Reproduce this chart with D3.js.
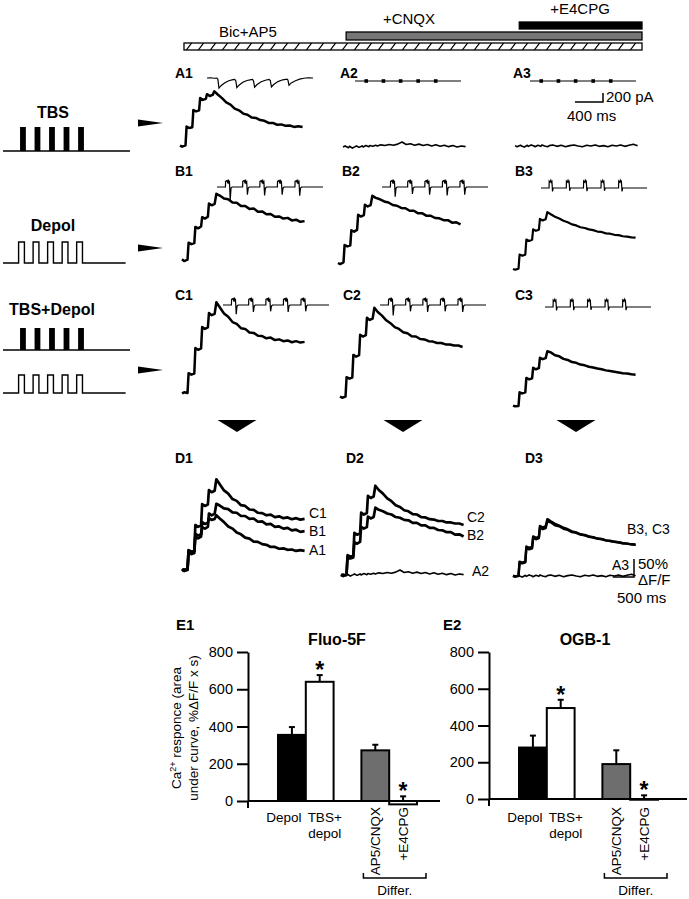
<!DOCTYPE html>
<html><head><meta charset="utf-8">
<script src="https://cdn.jsdelivr.net/npm/d3@7"></script>
<style>
body{margin:0;background:#fff;}
svg text{font-family:Arial,"Liberation Sans",Helvetica,sans-serif;fill:#000;}
</style></head><body>
<svg id="fig" width="689" height="899"></svg>
<script>
// ---------------- DATA ----------------
// drug application bars (minutes)
const drugNames = ["Bic+AP5", "+CNQX", "+E4CPG"];
const drugOnset = [0, 17.7, 36.6];
const drugEnd = 50;

// stimulus protocol (ms)
const stimTimes = [235, 435, 635, 835, 1035];
const stimWidth = 80;
const stimLabels = ["TBS", "Depol", "TBS+Depol"];

// Ca2+ traces: time (ms) and %ΔF/F
const caTime = [-140,-90,-10,15,80,150,175,240,310,335,400,470,495,560,630,670,
  750,850,950,1050,1150,1250,1350,1450,1550,1650,1750,1850,1950,2050,2150,2250,2350,2450,2550,2650,2750];
const caA1 = [1,-2,2, 54,50,52, 100,96,99, 133,128,131, 144,139,142, 152,
  143,133,121,115,104,99,90,87,79,78,72,70,64,64,59,60,56,57,53,55,53];
const caB1 = [2,-3,1, 48,44,47, 92,88,93, 119,115,120, 157,152,156, 184,
  179,171,169,160,159,150,150,142,143,134,135,127,128,120,121,115,117,110,112,106,108];
const caC1 = [-1,2,0, 55,51,54, 125,120,124, 183,178,182, 222,216,220, 252,
  238,221,212,197,192,180,178,168,167,159,158,152,154,147,149,144,146,141,144,140,142];
const caA2 = [0,3,-2,2,-3,1,3,-1,3,0,4,1,4,2,5,3,6,4,7,5,8,14,7,9,5,8,4,7,3,6,2,5,1,4,0,3,1];
const caB2 = [0,-3,2, 50,46,49, 91,87,92, 134,129,133, 162,157,161, 187,
  181,177,171,168,161,159,153,152,145,145,138,138,131,131,125,124,119,119,112,113,107];
const caC2 = [1,-2,1, 55,51,54, 117,112,116, 173,168,172, 220,214,218, 248,
  236,226,213,205,194,189,180,177,169,168,161,160,155,154,150,150,146,146,143,143,139];
const caA3 = [1,-2,2,0,-3,2,-1,3,0,-2,2,-1,3,0,-2,1,3,-1,2,-2,1,3,0,-2,2,0,3,-1,1,-2,2,0,3,-1,2,5,1];
const caB3 = [0,-2,1, 40,37,40, 82,78,81, 110,106,109, 139,135,138, 158,
  152,145,140,134,130,124,121,116,114,110,108,104,103,99,98,95,94,91,90,88,87];
const caC3 = [1,-1,0, 38,35,38, 78,74,77, 106,102,105, 134,130,133, 152,
  149,141,138,131,128,122,120,115,113,109,107,104,102,99,97,95,93,91,90,88,87];

// electrophysiology traces (ms)
const ephysPulses = [160, 405, 650, 900, 1150];
const ephysEnd = 1510;
// A1 synaptic current (pA)
const epscA1 = [[0,0],[50,5],[100,-5],[140,0],[155,-30],[170,-225],[200,-170],[250,-110],[310,-60],[370,-35],[395,-30],
  [410,-60],[425,-215],[455,-160],[510,-95],[570,-55],[630,-35],[648,-30],[662,-60],[678,-205],[710,-150],[765,-90],
  [830,-50],[885,-30],[902,-55],[918,-200],[950,-145],[1010,-80],[1080,-40],[1140,-25],[1153,-45],[1168,-160],
  [1200,-110],[1260,-60],[1320,-25],[1380,-5],[1440,5],[1510,0]];
// spike waveform templates (null = downward peak, from depth arrays)
const spikeShapeBC = [[-40,0],[-38,16],[-20,18],[-8,13],[0,21],[8,12],[18,15],[28,null],[40,-3],[55,0]];
const spikeShape3 = [[-45,0],[-43,20],[-30,17],[-20,22],[-10,16],[-4,18],[4,null],[14,0]];
const depthB1 = [-38,-22,-24,-22,-25];
const depthB2 = [-28,-20,-22,-24,-22];
const depthB3 = [-10,-8,-9,-8,-10];
const depthC1 = [-26,-20,-18,-20,-18];
const depthC2 = [-30,-18,-20,-18,-20];
const depthC3 = [-10,-9,-8,-10,-9];

// summary bar charts
const barCategories = ["Depol", "TBS+depol", "AP5/CNQX", "+E4CPG"];
const fluo5F = [355, 640, 272, -18];
const fluo5FErr = [42, 36, 30, 43];
const fluo5FStars = [false, true, false, true];
const ogb1 = [280, 495, 190, -4];
const ogb1Err = [65, 45, 75, 24];
const ogb1Stars = [false, true, false, true];
const yTicks = [0, 200, 400, 600, 800];

// ---------------- DRAW ----------------
const svg = d3.select("#fig");
svg.append("rect").attr("width", 689).attr("height", 899).attr("fill", "#fff");
const defs = svg.append("defs");
const pat = defs.append("pattern").attr("id", "hatch").attr("patternUnits", "userSpaceOnUse")
  .attr("x", 184).attr("y", 43).attr("width", 12).attr("height", 7);
pat.append("rect").attr("width", 12).attr("height", 7).attr("fill", "#fff");
pat.append("path").attr("d", "M2,7.5 L8,-0.5").attr("stroke", "#000").attr("stroke-width", 1.2);

// drug bars
const xDrug = d3.scaleLinear([0, drugEnd], [184, 642]);
const drugBarY = [43, 32, 22], drugBarH = [7, 8, 7];
const drugFill = ["url(#hatch)", "#777", "#000"];
const drugLabelPos = [[248, 37], [409, 24], [580, 14]];
drugNames.forEach((n, i) => {
  svg.append("rect").attr("x", xDrug(drugOnset[i])).attr("y", drugBarY[i])
    .attr("width", xDrug(drugEnd) - xDrug(drugOnset[i])).attr("height", drugBarH[i])
    .attr("fill", drugFill[i]).attr("stroke", "#000").attr("stroke-width", 1.3);
  svg.append("text").attr("x", drugLabelPos[i][0]).attr("y", drugLabelPos[i][1])
    .attr("text-anchor", "middle").attr("font-size", 15).text(n);
});

// panel labels
const panelLabels = [["A1",175,78],["A2",340,78],["A3",513,78],["B1",175,176],["B2",342,176],["B3",515,176],
  ["C1",175,300],["C2",343,300],["C3",515,300],["D1",175,463],["D2",346,463],["D3",525,463]];
panelLabels.forEach(([t, x, y]) => svg.append("text").attr("x", x).attr("y", y)
  .attr("font-size", 14).attr("font-weight", "bold").text(t));
svg.append("text").attr("x", 176).attr("y", 630).attr("font-size", 15).attr("font-weight", "bold").text("E1");
svg.append("text").attr("x", 443).attr("y", 630).attr("font-size", 15).attr("font-weight", "bold").text("E2");

// stimulus diagrams
const xStim = d3.scaleLinear([0, 1750], [3, 130]);
function stimTBS(baseY, h) {
  svg.append("line").attr("x1", xStim(0)).attr("x2", xStim(1750)).attr("y1", baseY).attr("y2", baseY)
    .attr("stroke", "#000").attr("stroke-width", 1.5);
  svg.selectAll(null).data(stimTimes).enter().append("rect")
    .attr("x", d => xStim(d)).attr("y", baseY - h).attr("width", xStim(d3.min(stimTimes) + stimWidth) - xStim(d3.min(stimTimes)))
    .attr("height", h).attr("fill", "#000");
}
function stimDepol(baseY, h) {
  let d = `M${xStim(0)},${baseY}`;
  stimTimes.forEach(t => {
    d += ` H${xStim(t - 20)} V${baseY - h} H${xStim(t + stimWidth - 20)} V${baseY}`;
  });
  d += ` H${xStim(1690)}`;
  svg.append("path").attr("d", d).attr("fill", "none").attr("stroke", "#000").attr("stroke-width", 1.4);
}
svg.append("text").attr("x", 53).attr("y", 118).attr("text-anchor", "middle").attr("font-size", 16).attr("font-weight", "bold").text(stimLabels[0]);
stimTBS(151, 24);
svg.append("text").attr("x", 53).attr("y", 231).attr("text-anchor", "middle").attr("font-size", 16).attr("font-weight", "bold").text(stimLabels[1]);
stimDepol(263, 21);
svg.append("text").attr("x", 52).attr("y", 315).attr("text-anchor", "middle").attr("font-size", 16).attr("font-weight", "bold").text(stimLabels[2]);
stimTBS(350, 22);
stimDepol(393, 18);

// right arrows
[123, 248, 370].forEach(y => svg.append("path")
  .attr("d", `M138,${y - 3.5} L163,${y} L138,${y + 3.5} Z`).attr("fill", "#000"));
// down arrows
[237, 403, 576].forEach(x => svg.append("path")
  .attr("d", `M${x - 19.5},420 L${x + 19.5},420 L${x},432 Z`).attr("fill", "#000"));

// Ca traces
const xCa = d3.scaleLinear([-140, 2760], [0, 123]);
const yCa = d3.scaleLinear([0, 50], [0, -18]);
const caLine = d3.line().x(d => xCa(d[0])).y(d => yCa(d[1]));
function drawCa(values, x, y, sw) {
  svg.append("path").datum(caTime.map((t, i) => [t, values[i]]))
    .attr("transform", `translate(${x},${y})`).attr("d", caLine)
    .attr("fill", "none").attr("stroke", "#000").attr("stroke-width", sw || 2.5)
    .attr("stroke-linejoin", "round");
}
drawCa(caA1, 180, 146); drawCa(caA2, 343, 147, 1.6); drawCa(caA3, 515, 146, 1.6);
drawCa(caB1, 182, 260); drawCa(caB2, 338, 263); drawCa(caB3, 513, 269, 2.2);
drawCa(caC1, 182, 393); drawCa(caC2, 340, 397); drawCa(caC3, 513, 406);
// D overlays
drawCa(caC1, 182, 570, 2.7); drawCa(caB1, 182, 570, 2.7); drawCa(caA1, 182, 570, 2.7);
drawCa(caC2, 341, 575, 2.7); drawCa(caB2, 341, 575, 2.7); drawCa(caA2, 341, 575, 1.6);
drawCa(caB3, 513, 576, 2.4); drawCa(caC3, 513, 576, 2.4); drawCa(caA3, 513, 576, 1.6);
const dLabels = [["C1",309,518],["B1",309,536],["A1",309,555],["C2",467,522],["B2",467,540],["A2",472,576],
  ["B3, C3",627,534],["A3",612,570]];
dLabels.forEach(([t, x, y]) => svg.append("text").attr("x", x).attr("y", y).attr("font-size", 14).text(t));

// ephys traces
const xE = d3.scaleLinear([0, ephysEnd], [0, 106]);
const yI = d3.scaleLinear([0, -200], [0, 9]);
const yV = d3.scaleLinear([0, 20], [0, -7]);
function spikes(shape, depths) {
  const pts = [[0, 0]];
  ephysPulses.forEach((p, i) => shape.forEach(([dt, v]) => pts.push([p + dt, v === null ? depths[i] : v])));
  pts.push([ephysEnd, 0]);
  return pts;
}
function drawEphys(pts, yScale, x, y) {
  svg.append("path").datum(pts).attr("transform", `translate(${x},${y})`)
    .attr("d", d3.line().x(d => xE(d[0])).y(d => yScale(d[1])))
    .attr("fill", "none").attr("stroke", "#000").attr("stroke-width", 1.2);
}
drawEphys(epscA1, yI, 207, 78);
[[355, 81], [530, 81]].forEach(([x, y]) => {
  drawEphys([[0, 0], [ephysEnd, 0]], yI, x, y);
  svg.selectAll(null).data(ephysPulses).enter().append("rect")
    .attr("x", d => x + xE(d) - 1.8).attr("y", y - 1.8).attr("width", 3.6).attr("height", 3.6).attr("fill", "#000");
});
drawEphys(spikes(spikeShapeBC, depthB1), yV, 217, 187);
drawEphys(spikes(spikeShapeBC, depthB2), yV, 382, 187);
drawEphys(spikes(spikeShape3, depthB3), yV, 541, 188);
drawEphys(spikes(spikeShapeBC, depthC1), yV, 223, 305);
drawEphys(spikes(spikeShapeBC, depthC2), yV, 380, 305);
drawEphys(spikes(spikeShape3, depthC3), yV, 545, 307);

// scale bar A3 (400 ms, 200 pA)
const sbX = 603, sbY = 102;
svg.append("path").attr("d", `M${sbX - (xE(400) - xE(0))},${sbY} H${sbX} V${sbY - (yI(-200) - yI(0))}`)
  .attr("fill", "none").attr("stroke", "#000").attr("stroke-width", 1.5);
svg.append("text").attr("x", 606).attr("y", 102).attr("font-size", 15).text("200 pA");
svg.append("text").attr("x", 567).attr("y", 121).attr("font-size", 15).text("400 ms");
// scale bar D3 (500 ms, 50 %)
const sb2X = 634, sb2Y = 577;
svg.append("path").attr("d", `M${sb2X - (xCa(360) - xCa(-140))},${sb2Y} H${sb2X} V${sb2Y + yCa(50)}`)
  .attr("fill", "none").attr("stroke", "#000").attr("stroke-width", 1.5);
svg.append("text").attr("x", 638).attr("y", 569).attr("font-size", 15).text("50%");
svg.append("text").attr("x", 638).attr("y", 585).attr("font-size", 15).text("ΔF/F");
svg.append("text").attr("x", 617).attr("y", 603).attr("font-size", 15).text("500 ms");

// bar charts
const slots = ["Depol", "TBS+depol", "gap", "AP5/CNQX", "+E4CPG"];
const barFill = ["#000", "#fff", "#6e6e6e", "#fff"];
function barChart(cfg) {
  const y = d3.scaleLinear([0, 800], [cfg.y0, 652]);
  const x = d3.scaleBand(slots, [cfg.bx0, cfg.bx1]);
  const g = svg.append("g");
  g.append("text").attr("x", cfg.titleX).attr("y", 645).attr("text-anchor", "middle")
    .attr("font-size", 16).attr("font-weight", "bold").text(cfg.title);
  // zero line
  g.append("line").attr("x1", cfg.ax).attr("x2", cfg.lineEnd).attr("y1", y(0)).attr("y2", y(0))
    .attr("stroke", "#000").attr("stroke-width", 2);
  const axis = g.append("g").attr("transform", `translate(${cfg.ax},0)`)
    .call(d3.axisLeft(y).tickValues(yTicks).tickSize(11).tickSizeOuter(0).tickPadding(4));
  axis.select(".domain").attr("stroke-width", 2);
  axis.selectAll(".tick line").attr("stroke-width", 2);
  axis.selectAll(".tick text").attr("font-size", 14.5).attr("font-family", "Arial, Liberation Sans, sans-serif");
  g.append("line").attr("x1", cfg.ax).attr("x2", cfg.ax).attr("y1", y(0)).attr("y2", y(0) + 7)
    .attr("stroke", "#000").attr("stroke-width", 2);
  barCategories.forEach((c, i) => {
    const v = cfg.values[i], e = cfg.errs[i];
    const cx = x(c) + x.bandwidth() / 2;
    g.append("line").attr("x1", cx).attr("x2", cx).attr("y1", y(v)).attr("y2", y(v + e))
      .attr("stroke", "#000").attr("stroke-width", 2);
    g.append("line").attr("x1", cx - 3).attr("x2", cx + 3).attr("y1", y(v + e)).attr("y2", y(v + e))
      .attr("stroke", "#000").attr("stroke-width", 2);
    g.append("rect").attr("x", x(c)).attr("y", y(Math.max(0, v))).attr("width", x.bandwidth())
      .attr("height", Math.abs(y(v) - y(0))).attr("fill", barFill[i]).attr("stroke", "#000").attr("stroke-width", 2);
    if (cfg.stars[i]) g.append("text").attr("x", cx).attr("y", y(v + e) + 3).attr("text-anchor", "middle")
      .attr("font-size", 23).attr("font-weight", "bold").text("*");
  });
  const cD = x("Depol") + x.bandwidth() / 2, cT = x("TBS+depol") + x.bandwidth() / 2;
  g.append("text").attr("x", cD - 8).attr("y", 822).attr("text-anchor", "middle").attr("font-size", 13.5).text("Depol");
  g.append("text").attr("x", cT + 5).attr("y", 822).attr("text-anchor", "middle").attr("font-size", 13.5).text("TBS+");
  g.append("text").attr("x", cT + 5).attr("y", 838).attr("text-anchor", "middle").attr("font-size", 13.5).text("depol");
  ["AP5/CNQX", "+E4CPG"].forEach(c => {
    const cx = x(c) + x.bandwidth() / 2;
    g.append("text").attr("transform", `translate(${cx + 5},807) rotate(-90)`).attr("text-anchor", "end")
      .attr("font-size", 13.5).text(c);
  });
  const bl = x("AP5/CNQX") + 2, br = x("+E4CPG") + x.bandwidth() + 9;
  g.append("path").attr("d", `M${bl},873 V878 H${br} V873`).attr("fill", "none").attr("stroke", "#000").attr("stroke-width", 1.5);
  g.append("text").attr("x", (bl + br) / 2).attr("y", 895).attr("text-anchor", "middle").attr("font-size", 13.5).text("Differ.");
}
barChart({title: "Fluo-5F", titleX: 337, y0: 801, ax: 248, lineEnd: 440, bx0: 278, bx1: 417,
  values: fluo5F, errs: fluo5FErr, stars: fluo5FStars});
barChart({title: "OGB-1", titleX: 585, y0: 799, ax: 489, lineEnd: 687, bx0: 519, bx1: 658,
  values: ogb1, errs: ogb1Err, stars: ogb1Stars});

// y-axis title of E1
const yl = svg.append("g").attr("transform", "translate(190,728) rotate(-90)");
const t1 = yl.append("text").attr("x", 0).attr("y", -9).attr("text-anchor", "middle").attr("font-size", 13.5);
t1.append("tspan").text("Ca");
t1.append("tspan").attr("font-size", 9).attr("dy", -5).text("2+");
t1.append("tspan").attr("dy", 5).text(" responce (area");
yl.append("text").attr("x", 0).attr("y", 8).attr("text-anchor", "middle").attr("font-size", 13.5)
  .text("under curve, %ΔF/F x s)");
</script></body></html>
